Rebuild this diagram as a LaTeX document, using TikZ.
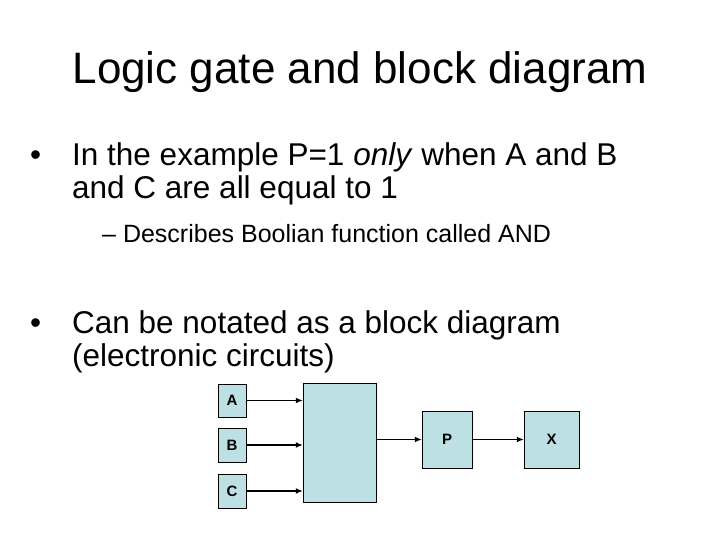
\documentclass[tikz,border=0pt]{standalone}
\usepackage{fontspec}
\setmainfont{Liberation Sans}
\usetikzlibrary{arrows.meta}
\begin{document}
\begin{tikzpicture}[x=1pt,y=-1pt,
  blk/.style={draw=black,fill={rgb,255:red,188;green,224;blue,228},inner sep=0pt,font=\fontsize{15}{17}\selectfont\bfseries},
  arr/.style={-{Latex[length=7pt,width=6pt]},line width=1.3pt},
  txt/.style={anchor=base west,inner sep=0pt,font=\fontsize{31.5}{36}\selectfont}]
\useasboundingbox (0,0) rectangle (720,540);
\node[anchor=base,inner sep=0pt,font=\fontsize{44}{50}\selectfont] (title) at (360,84) {Logic gate and block diagram};
\node[txt] (b1) at (30,166) {•};
\node[txt] (l1) at (72,166) {In the example P=1 \textit{only} when A and B};
\node[txt] (l2) at (72,199) {and C are all equal to 1};
\node[txt,font=\fontsize{25}{29}\selectfont] (l3) at (102,242) {– Describes Boolian function called AND};
\node[txt] (b2) at (30,333) {•};
\node[txt] (l4) at (72,333) {Can be notated as a block diagram};
\node[txt] (l5) at (72,366) {(electronic circuits)};
\node[blk,minimum width=28,minimum height=33] (A) at (232,400.5) {A};
\node[blk,minimum width=28,minimum height=34] (B) at (232,445) {B};
\node[blk,minimum width=28,minimum height=34] (C) at (232,491) {C};
\node[blk,minimum width=73,minimum height=119] (G) at (339.5,442.5) {};
\node[blk,minimum width=50,minimum height=57] (P) at (447,439.5) {P};
\node[blk,minimum width=55,minimum height=57] (X) at (551.5,439.5) {X};
\draw[arr] (A.east) -- (A.east -| G.west);
\draw[arr] (B.east) -- (B.east -| G.west);
\draw[arr] (C.east) -- (C.east -| G.west);
\draw[arr] (G.east |- P.west) -- (P.west);
\draw[arr] (P.east) -- (X.west);
\end{tikzpicture}
\end{document}
